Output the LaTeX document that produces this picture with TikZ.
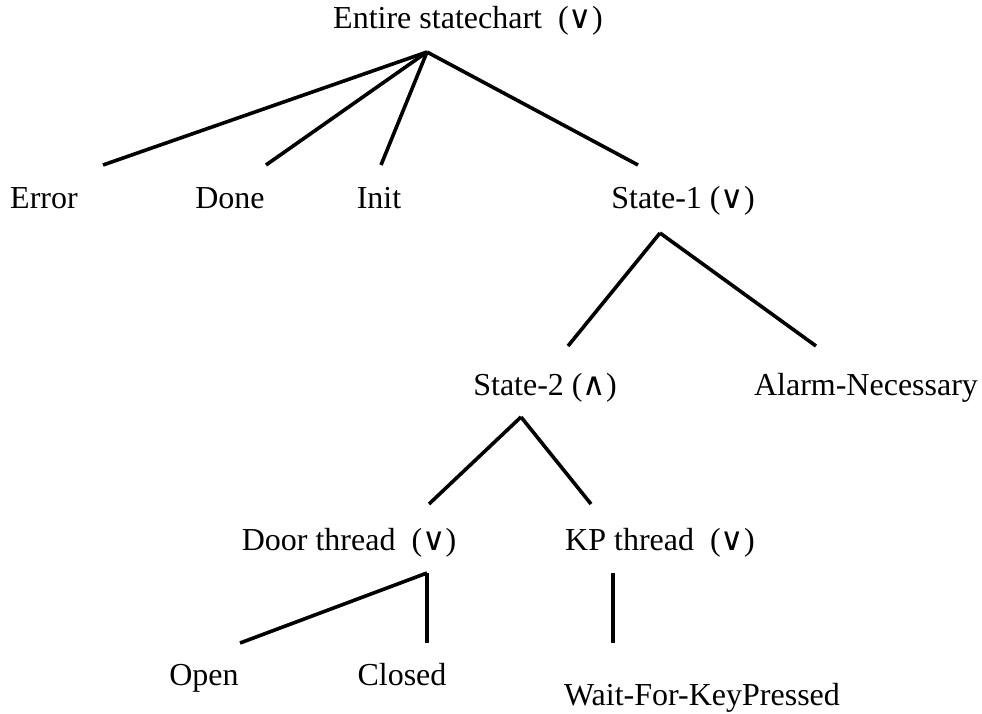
\documentclass[tikz,border=0pt]{standalone}
\usepackage{fontspec}
\setmainfont{Liberation Serif}
\newfontfamily\symfont{DejaVu Sans}
\usetikzlibrary{positioning}

\newcommand{\orsym}{{\symfont ∨}}
\newcommand{\andsym}{{\symfont ∧}}

\begin{document}
\begin{tikzpicture}[x=1pt,y=-1pt,
        state/.style={anchor=base,inner sep=0pt,font=\fontsize{32}{38}\selectfont},
        edge/.style={line width=3.6pt}]
        \useasboundingbox (0,0) rectangle (982,713);

        \node[state] at (468,28) (root) {Entire statechart\ \ (\orsym)};
        \node[state] at (44,208) (error) {Error};
        \node[state] at (230,208) (done) {Done};
        \node[state] at (379,208) (init) {Init};
        \node[state] at (683,208) (sone) {State-1 (\orsym)};
        \node[state] at (545,395) (stwo) {State-2 (\andsym)};
        \node[state] at (866,395) (alarm) {Alarm-Necessary};
        \node[state] at (349,550) (door) {Door thread\ \ (\orsym)};
        \node[state] at (660,550) (kp) {KP thread\ \ (\orsym)};
        \node[state] at (204,685) (open) {Open};
        \node[state] at (402,685) (closed) {Closed};
        \node[state] at (702,705) (wait) {Wait-For-KeyPressed};

        \coordinate (roottip) at (427,52);
        \coordinate (errortip) at (103,165);
        \coordinate (donetip) at (266,165);
        \coordinate (inittip) at (381,165);
        \coordinate (sonetop) at (638,165);
        \coordinate (sonetip) at (660,233);
        \coordinate (stwotop) at (568,346);
        \coordinate (alarmtip) at (816,346);
        \coordinate (stwotip) at (521,417);
        \coordinate (doortop) at (429,504);
        \coordinate (kptop) at (591,504);
        \coordinate (doortip) at (427,573);
        \coordinate (opentip) at (240,643);
        \coordinate (closedtip) at (427,643);
        \coordinate (kptip) at (613,573);
        \coordinate (waittip) at (613,643);

        \draw[edge] (roottip) -- (errortip);
        \draw[edge] (roottip) -- (donetip);
        \draw[edge] (roottip) -- (inittip);
        \draw[edge] (roottip) -- (sonetop);
        \draw[edge] (sonetip) -- (stwotop);
        \draw[edge] (sonetip) -- (alarmtip);
        \draw[edge] (stwotip) -- (doortop);
        \draw[edge] (stwotip) -- (kptop);
        \draw[edge] (doortip) -- (opentip);
        \draw[edge] (doortip) -- (closedtip);
        \draw[edge] (kptip) -- (waittip);
    \end{tikzpicture}
\end{document}
